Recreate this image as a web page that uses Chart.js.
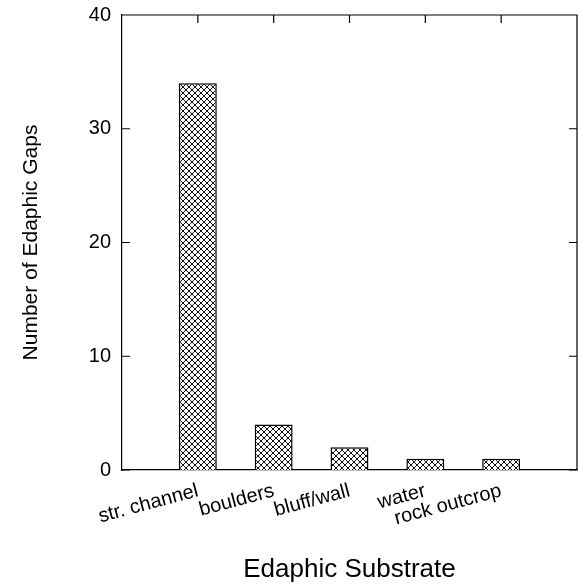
<!DOCTYPE html>
<html>
<head>
<meta charset="utf-8">
<script src="https://cdn.jsdelivr.net/npm/chart.js@4/dist/chart.umd.min.js"></script>
<style>
  html, body { margin: 0; padding: 0; background: #fff; }
  #wrap { width: 578px; height: 587px; }
</style>
</head>
<body>
<div id="wrap"><canvas id="chart" width="578" height="587"></canvas></div>
<script>
// Data
const categories = ["str. channel", "boulders", "bluff/wall", "water", "rock outcrop"];
const gapCounts = [34, 4, 2, 1, 1];
const yTicks = [0, 10, 20, 30, 40];

// Empty slot on each side, like the original axis
const axisLabels = ["", ...categories, ""];
const axisValues = [null, ...gapCounts, null];

// Crosshatch fill for the bars
function crosshatch() {
    const c = document.createElement("canvas");
    c.width = 6;
    c.height = 6;
    const g = c.getContext("2d");
    g.fillStyle = "#fff";
    g.fillRect(0, 0, 6, 6);
    g.strokeStyle = "#111";
    g.lineWidth = 1;
    g.beginPath();
    g.moveTo(0, 0); g.lineTo(6, 6);
    g.moveTo(6, 0); g.lineTo(0, 6);
    g.stroke();
    return g.createPattern(c, "repeat");
}

// Frame on top/right plus inward tick marks
const innerTicks = {
    id: "innerTicks",
    afterDatasetsDraw(chart) {
        const { ctx, chartArea: a, scales: { x, y } } = chart;
        ctx.save();
        ctx.strokeStyle = "#000";
        ctx.lineWidth = 1.2;
        ctx.beginPath();
        ctx.moveTo(a.left, a.top);
        ctx.lineTo(a.right, a.top);
        ctx.lineTo(a.right, a.bottom);
        y.ticks.forEach((t) => {
            const py = y.getPixelForValue(t.value);
            ctx.moveTo(a.left, py); ctx.lineTo(a.left + 8, py);
            ctx.moveTo(a.right, py); ctx.lineTo(a.right - 8, py);
        });
        for (let i = 1; i <= categories.length; i++) {
            const px = x.getPixelForValue(i);
            ctx.moveTo(px, a.top); ctx.lineTo(px, a.top + 8);
        }
        ctx.stroke();
        ctx.restore();
    },
};

const FONT = "'Liberation Sans', Arial, Helvetica, sans-serif";
Chart.defaults.font.family = FONT;
Chart.defaults.color = "#000";

new Chart(document.getElementById("chart"), {
    type: "bar",
    data: {
        labels: axisLabels,
        datasets: [{
            data: axisValues,
            backgroundColor: crosshatch(),
            borderColor: "#000",
            borderWidth: 1.5,
            barPercentage: 0.5,
            categoryPercentage: 1,
        }],
    },
    options: {
        responsive: false,
        animation: false,
        layout: { padding: { top: 15, right: 1, left: 0, bottom: 0 } },
        plugins: { legend: { display: false }, tooltip: { enabled: false } },
        scales: {
            x: {
                offset: false,
                grid: { display: false, drawTicks: false },
                border: { display: true, color: "#000", width: 1.2 },
                ticks: {
                    autoSkip: false,
                    minRotation: 15,
                    maxRotation: 15,
                    padding: 10,
                    font: { size: 20, lineHeight: 1.1 },
                },
                title: {
                    display: true,
                    text: "Edaphic Substrate",
                    font: { size: 26 },
                    padding: { top: 0, bottom: 2 },
                },
                afterFit: (s) => {
                    s.height = 117;
                    s.paddingLeft = 0;
                    s.paddingRight = 0;
                },
            },
            y: {
                min: 0,
                max: 40,
                afterBuildTicks: (s) => { s.ticks = yTicks.map((v) => ({ value: v })); },
                grid: { display: false, drawTicks: false },
                border: { display: true, color: "#000", width: 1.2 },
                ticks: { padding: 11, font: { size: 20 } },
                title: {
                    display: true,
                    text: "Number of Edaphic Gaps",
                    font: { size: 21 },
                    padding: { top: 19, bottom: 0 },
                },
                afterFit: (s) => {
                    s.width = 122;
                    s.paddingTop = 0;
                    s.paddingBottom = 0;
                },
            },
        },
    },
    plugins: [innerTicks],
});
</script>
</body>
</html>
